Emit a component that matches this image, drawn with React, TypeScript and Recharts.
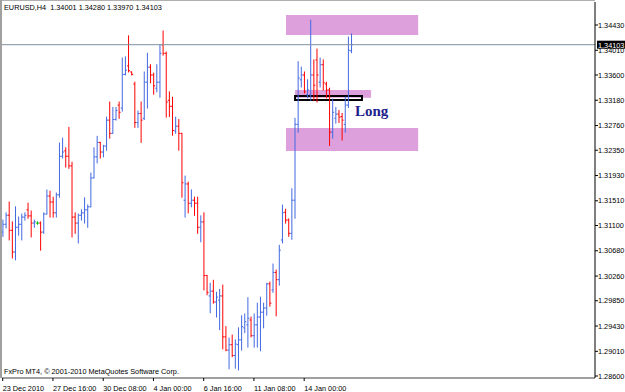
import { ComposedChart, Bar, XAxis, YAxis, ReferenceArea, ReferenceLine } from 'recharts';

// EURUSD H4 bars, oldest first
const barOpen = [
  1.3099, 1.3112, 1.3127, 1.3102, 1.3066, 1.3107, 1.3112, 1.3124, 1.3136, 1.3126,
  1.3114, 1.3114, 1.3114, 1.3099, 1.3129, 1.3159, 1.3149, 1.3131, 1.3161, 1.3225,
  1.3234, 1.3225, 1.3209, 1.3124, 1.3114, 1.3127, 1.3131, 1.3136, 1.3141, 1.3189,
  1.3224, 1.3248, 1.3232, 1.3242, 1.3285, 1.3263, 1.3286, 1.331, 1.3305, 1.3361,
  1.3375, 1.3365, 1.3345, 1.3281, 1.3296, 1.3288, 1.3348, 1.3373, 1.336, 1.3338,
  1.3348, 1.341, 1.3396, 1.3318, 1.3308, 1.3267, 1.3275, 1.3263, 1.3152, 1.3179,
  1.3147, 1.3152, 1.3147, 1.3107, 1.3116, 1.3027, 1.2993, 1.3001, 1.2983, 1.2986,
  1.2993, 1.2925, 1.2903, 1.2912, 1.2894, 1.2912, 1.292, 1.294, 1.2945, 1.2953,
  1.2927, 1.2945, 1.2958, 1.2966, 1.2973, 1.3013, 1.3003, 1.3032, 1.302, 1.3086,
  1.3132, 1.3119, 1.3097, 1.3152, 1.3278, 1.3352, 1.336, 1.3327, 1.3327, 1.336,
  1.3385, 1.3348, 1.3377, 1.3345, 1.3335, 1.3265, 1.3288, 1.3295, 1.3291, 1.3278,
  1.331, 1.34001,
];
const barHigh = [
  1.3119, 1.3131, 1.3149, 1.3116, 1.3141, 1.3124, 1.3129, 1.3131, 1.3147, 1.3134,
  1.3119, 1.3116, 1.3116, 1.3131, 1.3169, 1.3167, 1.3157, 1.3164, 1.3247, 1.3255,
  1.3239, 1.3273, 1.3215, 1.3131, 1.3129, 1.3136, 1.3156, 1.3144, 1.3197, 1.3239,
  1.3258, 1.3248, 1.3243, 1.329, 1.3315, 1.3306, 1.3306, 1.3315, 1.3388, 1.339,
  1.3425, 1.3365, 1.3348, 1.33, 1.3315, 1.3365, 1.3396, 1.3377, 1.3363, 1.3377,
  1.341, 1.3433, 1.3398, 1.3332, 1.3323, 1.329, 1.3286, 1.3263, 1.3192, 1.3182,
  1.3169, 1.3157, 1.3157, 1.3126, 1.3131, 1.3027, 1.3014, 1.3019, 1.2999, 1.3004,
  1.3011, 1.2942, 1.2923, 1.2928, 1.292, 1.294, 1.296, 1.2963, 1.299, 1.2958,
  1.2963, 1.2981, 1.2991, 1.2981, 1.3014, 1.3016, 1.3046, 1.3036, 1.3077, 1.3144,
  1.3137, 1.3121, 1.3171, 1.3288, 1.3382, 1.3373, 1.3365, 1.3352, 1.3451, 1.3385,
  1.3403, 1.3388, 1.3385, 1.3348, 1.3338, 1.332, 1.3306, 1.3301, 1.3296, 1.3323,
  1.3423, 1.3428,
];
const barLow = [
  1.3092, 1.3106, 1.3086, 1.3056, 1.3053, 1.3094, 1.3086, 1.3119, 1.3122, 1.3091,
  1.3107, 1.3112, 1.3069, 1.3097, 1.3129, 1.3124, 1.3124, 1.3124, 1.3157, 1.3222,
  1.3207, 1.3205, 1.3091, 1.3097, 1.3081, 1.3119, 1.3114, 1.3107, 1.3141, 1.3189,
  1.3214, 1.3222, 1.3224, 1.3235, 1.3255, 1.3263, 1.3285, 1.3288, 1.33, 1.336,
  1.3365, 1.336, 1.3273, 1.3273, 1.3248, 1.3286, 1.3305, 1.3347, 1.3328, 1.3332,
  1.3323, 1.3393, 1.329, 1.3291, 1.326, 1.3263, 1.3235, 1.3157, 1.3124, 1.3131,
  1.3141, 1.3127, 1.3097, 1.3083, 1.3003, 1.2995, 1.2965, 1.2981, 1.2958, 1.2937,
  1.2905, 1.2902, 1.2872, 1.2892, 1.2873, 1.287, 1.2903, 1.2932, 1.2908, 1.2925,
  1.2908, 1.2908, 1.2902, 1.294, 1.2961, 1.2976, 1.2999, 1.296, 1.3011, 1.3081,
  1.3114, 1.3092, 1.3087, 1.3122, 1.3265, 1.334, 1.333, 1.3322, 1.3318, 1.3318,
  1.3315, 1.334, 1.3335, 1.3322, 1.3243, 1.3255, 1.328, 1.3281, 1.3252, 1.3265,
  1.3306, 1.3397,
];
const barClose = [
  1.3112, 1.3127, 1.3102, 1.3066, 1.3107, 1.3112, 1.3124, 1.3127, 1.3126, 1.3114,
  1.3116, 1.3114, 1.3099, 1.3129, 1.3159, 1.3149, 1.3131, 1.3161, 1.3225, 1.3232,
  1.3225, 1.3209, 1.3124, 1.3114, 1.3127, 1.3131, 1.3136, 1.3141, 1.3189, 1.3224,
  1.3248, 1.3232, 1.3242, 1.3285, 1.3263, 1.3286, 1.3301, 1.3298, 1.3361, 1.3368,
  1.3367, 1.3361, 1.3281, 1.3296, 1.3285, 1.3348, 1.3373, 1.336, 1.3342, 1.3348,
  1.3396, 1.3396, 1.3315, 1.3308, 1.3268, 1.3275, 1.3263, 1.3181, 1.3179, 1.3147,
  1.3152, 1.3147, 1.3107, 1.3116, 1.3027, 1.2999, 1.3001, 1.2983, 1.2991, 1.2993,
  1.2925, 1.2903, 1.2912, 1.2894, 1.2913, 1.292, 1.2942, 1.295, 1.2956, 1.2927,
  1.2945, 1.2958, 1.2966, 1.2973, 1.3013, 1.2981, 1.3032, 1.302, 1.3069, 1.3131,
  1.3119, 1.3097, 1.3152, 1.3278, 1.3355, 1.336, 1.3332, 1.3335, 1.336, 1.3343,
  1.336, 1.3377, 1.3347, 1.3335, 1.3265, 1.3298, 1.3295, 1.329, 1.3285, 1.331,
  1.3401, 1.34103,
];

const timeTickIndex = [0, 16, 32, 48, 64, 80, 96];
const timeLabels = ['23 Dec 2010', '27 Dec 16:00', '30 Dec 08:00', '4 Jan 00:00', '6 Jan 16:00', '11 Jan 08:00', '14 Jan 00:00'];
const priceTicks = [1.3443, 1.3401, 1.336, 1.3318, 1.3276, 1.3235, 1.3193, 1.3151, 1.311, 1.3068, 1.3026, 1.2985, 1.2943, 1.2901, 1.286];
const bidPrice = 1.34103;

// zones drawn on the chart
const upperZone = { from: 90.2, to: 132.3, lo: 1.34264, hi: 1.34596 };
const lowerZone = { from: 90.2, to: 132.3, lo: 1.32337, hi: 1.32719 };
const entryZone = { from: 93.1, to: 117.3, lo: 1.3322, hi: 1.3335 };
const entryBox = { from: 93.1, to: 114.4, lo: 1.33184, hi: 1.3325 };

const BULL = '#4169e1';
const BEAR = '#ff0000';
const DOJI = '#00c000';
const PLUM = '#dda0dd';
const FONT = '"Liberation Sans", Arial, sans-serif';

const data = barOpen.map((o, i) => ({
  i,
  range: [barLow[i], barHigh[i]],
  open: o,
  high: barHigh[i],
  low: barLow[i],
  close: barClose[i],
}));

const OhlcShape = (props: any) => {
  const { x, y, width, height, payload } = props;
  const cx = x + width / 2;
  const span = payload.high - payload.low || 1;
  const yOpen = y + ((payload.high - payload.open) / span) * height;
  const yClose = y + ((payload.high - payload.close) / span) * height;
  const color = payload.close > payload.open ? BULL : payload.close < payload.open ? BEAR : DOJI;
  return (
    <g stroke={color} strokeWidth={1}>
      <line x1={cx} x2={cx} y1={y - 0.5} y2={y + height + 0.5} />
      <line x1={cx - 1.5} x2={cx} y1={yOpen} y2={yOpen} />
      <line x1={cx} x2={cx + 1.5} y1={yClose} y2={yClose} />
    </g>
  );
};

const TimeTick = (props: any) => {
  const { x, y, payload } = props;
  const idx = timeTickIndex.indexOf(payload.value);
  return (
    <text x={x} y={y + 8} fontSize={7.3} fontFamily={FONT} fill="#000" textAnchor="start">
      {timeLabels[idx]}
    </text>
  );
};

const PriceTag = (props: any) => {
  const vb = props.viewBox || {};
  const right = (vb.x || 0) + (vb.width || 0);
  return (
    <g>
      <rect x={right + 2} y={vb.y - 4} width={28} height={8} fill="#000" />
      <text x={right + 3} y={vb.y + 3} fontSize={7.3} fontFamily={FONT} fill="#fff">
        {bidPrice.toFixed(5)}
      </text>
    </g>
  );
};

export default function App() {
  return (
    <div style={{ position: 'absolute', left: 0, top: 0, width: 625, height: 392, background: '#fff' }}>
      <ComposedChart width={625} height={392} data={data} margin={{ top: 2, right: 0, bottom: 0, left: 2 }}>
        <XAxis
          dataKey="i"
          type="number"
          domain={[-0.22, 188.6]}
          allowDataOverflow
          ticks={timeTickIndex}
          interval={0}
          tick={<TimeTick />}
          tickSize={3}
          height={14}
          axisLine={{ stroke: '#a0a0a0', strokeWidth: 2 }}
          tickLine={{ stroke: '#000' }}
        />
        <YAxis
          orientation="right"
          type="number"
          domain={[1.28567, 1.34812]}
          allowDataOverflow
          ticks={priceTicks}
          interval={0}
          tickFormatter={(v: number) => v.toFixed(5)}
          tick={{ fontSize: 7.3, fontFamily: FONT, fill: '#000', textAnchor: 'start' }}
          tickSize={3}
          tickMargin={0}
          width={30}
          axisLine={{ stroke: '#000' }}
          tickLine={{ stroke: '#000' }}
        />
        <ReferenceArea x1={upperZone.from} x2={upperZone.to} y1={upperZone.lo} y2={upperZone.hi} fill={PLUM} fillOpacity={1} stroke="none" />
        <ReferenceArea x1={lowerZone.from} x2={lowerZone.to} y1={lowerZone.lo} y2={lowerZone.hi} fill={PLUM} fillOpacity={1} stroke="none" />
        <ReferenceArea x1={entryZone.from} x2={entryZone.to} y1={entryZone.lo} y2={entryZone.hi} fill={PLUM} fillOpacity={1} stroke="none" />
        <ReferenceLine y={bidPrice} stroke="#8090a0" strokeWidth={1} label={<PriceTag />} />
        <Bar dataKey="range" shape={<OhlcShape />} isAnimationActive={false} />
        <ReferenceArea x1={entryBox.from} x2={entryBox.to} y1={entryBox.lo} y2={entryBox.hi} fill="none" stroke="#000" strokeWidth={2} />
      </ComposedChart>
      <div style={{ position: 'absolute', left: 0, top: 0, width: 595, height: 1, background: '#b0b0b0' }} />
      <div style={{ position: 'absolute', left: 0, top: 0, width: 2, height: 378, background: '#a0a0a0' }} />
      <div style={{ position: 'absolute', left: 4, top: 3, fontSize: 7.3, lineHeight: '9px', fontFamily: FONT, color: '#000', whiteSpace: 'pre' }}>
        {'EURUSD,H4  1.34001 1.34280 1.33970 1.34103'}
      </div>
      <div style={{ position: 'absolute', left: 4, top: 367, fontSize: 7.3, lineHeight: '9px', fontFamily: FONT, color: '#000', whiteSpace: 'pre' }}>
        {'FxPro MT4, \u00a9 2001-2010 MetaQuotes Software Corp.'}
      </div>
      <div style={{ position: 'absolute', left: 355, top: 102, fontSize: 15, fontWeight: 'bold', fontFamily: '"Liberation Serif", "Times New Roman", serif', color: '#1e1e8c', lineHeight: '18px' }}>
        Long
      </div>
    </div>
  );
}
